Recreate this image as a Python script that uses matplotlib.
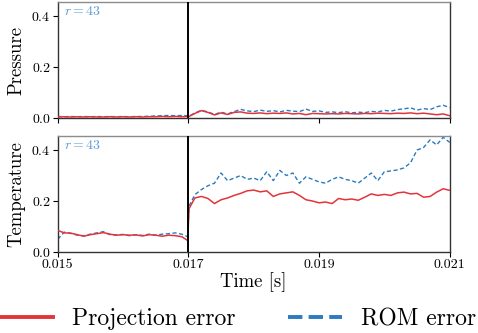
import matplotlib
matplotlib.use("Agg")
from matplotlib import pyplot as plt
from matplotlib.lines import Line2D
import numpy as np

plt.rcParams['font.family'] = 'serif'
plt.rcParams['font.serif'] = ['cmr10', 'DejaVu Serif']
plt.rcParams['mathtext.fontset'] = 'cm'
plt.rcParams['axes.formatter.use_mathtext'] = True

RED = '#e3343b'
BLUE = '#2a7bc0'

# time grid [s]
time = [0.0150, 0.0151, 0.0152, 0.0153, 0.0154, 0.0155, 0.0156, 0.0157, 0.0158, 0.0159,
        0.0160, 0.0161, 0.0162, 0.0163, 0.0164, 0.0165, 0.0166, 0.0167, 0.0168, 0.0169,
        0.01699, 0.01701,
        0.0171, 0.0172, 0.0173, 0.0174, 0.0175, 0.0176, 0.0177, 0.0178, 0.0179, 0.0180,
        0.0181, 0.0182, 0.0183, 0.0184, 0.0185, 0.0186, 0.0187, 0.0188, 0.0189, 0.0190,
        0.0191, 0.0192, 0.0193, 0.0194, 0.0195, 0.0196, 0.0197, 0.0198, 0.0199, 0.0200,
        0.0201, 0.0202, 0.0203, 0.0204, 0.0205, 0.0206, 0.0207, 0.0208, 0.0209, 0.0210]

# pressure errors
p_proj = [0.004, 0.005, 0.004, 0.005, 0.004, 0.005, 0.004, 0.004, 0.005, 0.004,
          0.005, 0.004, 0.005, 0.004, 0.005, 0.005, 0.006, 0.005, 0.006, 0.005,
          0.006, 0.006,
          0.018, 0.029, 0.022, 0.012, 0.020, 0.014, 0.022, 0.024, 0.019, 0.018,
          0.020, 0.017, 0.019, 0.018, 0.020, 0.016, 0.018, 0.013, 0.018, 0.017,
          0.016, 0.017, 0.016, 0.018, 0.017, 0.016, 0.018, 0.017, 0.019, 0.018,
          0.017, 0.019, 0.018, 0.020, 0.017, 0.019, 0.016, 0.013, 0.016, 0.009]
p_rom = [0.006, 0.005, 0.006, 0.005, 0.006, 0.005, 0.006, 0.005, 0.006, 0.005,
         0.006, 0.005, 0.006, 0.006, 0.007, 0.008, 0.009, 0.010, 0.009, 0.010,
         0.009, 0.007,
         0.020, 0.030, 0.024, 0.014, 0.023, 0.016, 0.025, 0.034, 0.028, 0.025,
         0.031, 0.026, 0.029, 0.024, 0.030, 0.027, 0.025, 0.035, 0.026, 0.028,
         0.022, 0.024, 0.021, 0.025, 0.020, 0.023, 0.021, 0.026, 0.024, 0.030,
         0.027, 0.033, 0.036, 0.040, 0.031, 0.037, 0.033, 0.044, 0.050, 0.041]

# temperature errors
t_proj = [0.085, 0.075, 0.074, 0.068, 0.062, 0.068, 0.072, 0.076, 0.070, 0.066,
          0.068, 0.066, 0.067, 0.063, 0.068, 0.066, 0.062, 0.066, 0.064, 0.060,
          0.045, 0.170,
          0.212, 0.218, 0.210, 0.190, 0.205, 0.212, 0.222, 0.230, 0.240, 0.243,
          0.236, 0.240, 0.218, 0.228, 0.232, 0.236, 0.222, 0.205, 0.200, 0.193,
          0.196, 0.190, 0.210, 0.205, 0.208, 0.203, 0.215, 0.228, 0.222, 0.226,
          0.222, 0.232, 0.235, 0.228, 0.230, 0.215, 0.218, 0.235, 0.248, 0.242]
t_rom = [0.050, 0.078, 0.073, 0.066, 0.064, 0.070, 0.075, 0.080, 0.068, 0.067,
         0.069, 0.064, 0.068, 0.065, 0.070, 0.066, 0.070, 0.072, 0.075, 0.070,
         0.060, 0.180,
         0.225, 0.245, 0.260, 0.270, 0.310, 0.280, 0.290, 0.300, 0.285, 0.290,
         0.280, 0.315, 0.280, 0.320, 0.300, 0.310, 0.270, 0.295, 0.285, 0.275,
         0.270, 0.285, 0.295, 0.285, 0.280, 0.270, 0.290, 0.310, 0.280, 0.315,
         0.318, 0.322, 0.330, 0.350, 0.400, 0.410, 0.440, 0.420, 0.450, 0.430]

t_switch = 0.017
r_label = r'$r = 43$'
xticks = [0.015, 0.017, 0.019, 0.021]
yticks = [0.0, 0.2, 0.4]

fig = plt.figure(figsize=(4.78, 3.33), dpi=100)
ax_p = fig.add_axes([0.1207, 0.6456, 0.8201, 0.3483])
ax_t = fig.add_axes([0.1207, 0.2432, 0.8201, 0.3483])

for ax, proj, rom, name in [(ax_p, p_proj, p_rom, 'Pressure'),
                            (ax_t, t_proj, t_rom, 'Temperature')]:
    ax.plot(time, proj, color=RED, lw=1.1, zorder=3)
    ax.plot(time, rom, color=BLUE, lw=1.0, ls='--', dashes=(3, 1.8), zorder=2)
    ax.axvline(t_switch, color='black', lw=1.4, zorder=4)
    ax.set_xlim(0.015, 0.021)
    ax.set_ylim(0, 0.455)
    ax.set_xticks(xticks)
    ax.set_yticks(yticks)
    ax.set_ylabel(name, fontsize=13.5, labelpad=4)
    ax.tick_params(direction='out', length=3.5, width=0.8, labelsize=10, pad=1.5)
    ax.text(0.016, 0.975, r_label, transform=ax.transAxes, ha='left', va='top',
            color='#5b9bd5', fontsize=10)
    for s in ['left', 'bottom', 'right']:
        ax.spines[s].set_color('0.2')
        ax.spines[s].set_linewidth(1.0)
    ax.spines['top'].set_color('0.55')
    ax.spines['top'].set_linewidth(1.0)

ax_p.set_xticklabels([])
ax_t.set_xticklabels(['0.015', '0.017', '0.019', '0.021'])
ax_t.set_xlabel('Time [s]', fontsize=13.5, labelpad=1)
fig.align_ylabels([ax_p, ax_t])

handles = [Line2D([], [], color=RED, lw=2.8),
           Line2D([], [], color=BLUE, lw=2.8, ls='--')]
fig.legend(handles, ['Projection error', 'ROM error'], loc='center',
           bbox_to_anchor=(0.497, 0.042), ncol=2, frameon=False, fontsize=17,
           handlelength=2.3, handletextpad=0.8, columnspacing=2.2, borderpad=0)

fig.savefig('out.png', dpi=100)
